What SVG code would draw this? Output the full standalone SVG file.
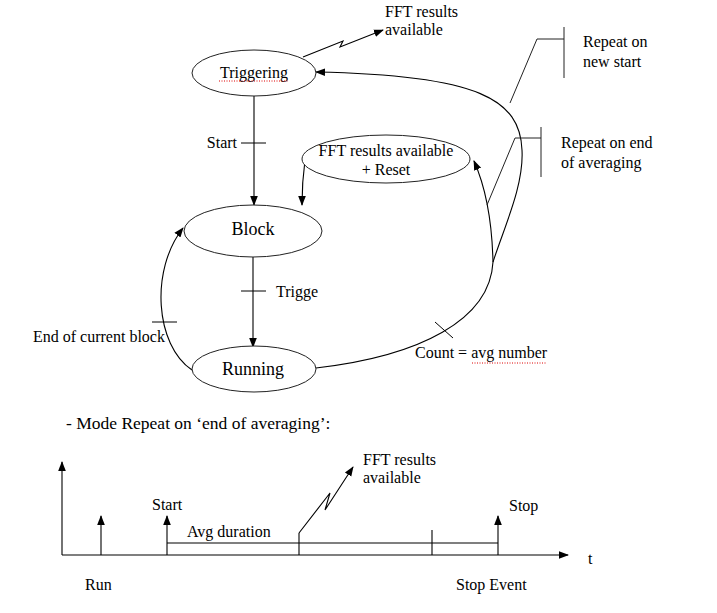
<svg xmlns="http://www.w3.org/2000/svg" width="717" height="613" viewBox="0 0 717 613">
<defs>
<marker id="ah" markerUnits="userSpaceOnUse" markerWidth="10" markerHeight="10" viewBox="0 0 10 10" refX="9" refY="5" orient="auto">
<path d="M0,1.2 L10,5 L0,8.8 Z" fill="#000"/>
</marker>
<style>
text{font-family:"Liberation Serif","Times New Roman",serif;font-size:16px;fill:#000}
.big{font-size:18px}
.mode{font-size:17.5px}
.node{fill:#fff;stroke:#222;stroke-width:1}
.ln{fill:none;stroke:#000;stroke-width:1.1}
.arr{fill:none;stroke:#000;stroke-width:1.1;marker-end:url(#ah)}
.tick{stroke:#000;stroke-width:1}
.call{fill:none;stroke:#222;stroke-width:1}
.spell{stroke:#d00;stroke-width:1;stroke-dasharray:1,1.5}
</style>
</defs>
<rect width="717" height="613" fill="#fff"/>

<g id="connectors">
<line class="arr" x1="254" y1="96" x2="254" y2="205"/>
<line class="tick" x1="241" y1="143" x2="266" y2="143"/>
<line class="arr" x1="253" y1="257" x2="253" y2="347"/>
<line class="tick" x1="241" y1="291" x2="266" y2="291"/>
<path class="arr" d="M192,370 C155,345 150,270 183,228"/>
<line class="tick" x1="152" y1="322" x2="177" y2="322"/>
<path class="arr" d="M305,160 C303,175 302,190 302,205"/>
<path class="ln" d="M316,368 C420,356 490,320 493,262"/>
<path class="arr" d="M493,262 C505,225 524,185 522,150 C520,100 480,75 316,72"/>
<path class="arr" d="M493,262 C492,220 486,188 474,161"/>
<line class="tick" x1="435" y1="322" x2="453" y2="338"/>
<path class="arr" d="M303,57 L343,41 L340,47 L383,30"/>
</g>

<g id="callout-new-start">
<polyline class="call" points="510,103 537,39 564,39"/>
<line class="call" x1="564" y1="27" x2="564" y2="78"/>
<text x="583" y="47">Repeat on</text>
<text x="583" y="67">new start</text>
</g>
<g id="callout-end-avg">
<polyline class="call" points="487,205 515,138 541,138"/>
<line class="call" x1="541" y1="127" x2="541" y2="177"/>
<text x="561" y="148">Repeat on end</text>
<text x="561" y="168">of averaging</text>
</g>

<g id="triggering">
<ellipse class="node" cx="254" cy="73" rx="62" ry="23"/>
<text x="254" y="78" text-anchor="middle">Triggering</text>
<line class="spell" x1="219" y1="81" x2="289" y2="81"/>
</g>
<g id="fft-reset">
<ellipse class="node" cx="386" cy="159" rx="84" ry="24"/>
<text x="386" y="156" text-anchor="middle">FFT results available</text>
<text x="386" y="175" text-anchor="middle">+ Reset</text>
</g>
<g id="block">
<ellipse class="node" cx="253" cy="231" rx="69" ry="26"/>
<text class="big" x="253" y="235" text-anchor="middle">Block</text>
</g>
<g id="running">
<ellipse class="node" cx="254" cy="369" rx="62" ry="23"/>
<text class="big" x="253" y="375" text-anchor="middle">Running</text>
</g>

<g id="labels">
<text x="385" y="17">FFT results</text>
<text x="385" y="35">available</text>
<text x="237" y="148" text-anchor="end">Start</text>
<text x="276" y="297">Trigge</text>
<text x="33" y="342">End of current block</text>
<text x="415" y="358">Count = avg number</text>
<line class="spell" x1="472" y1="363" x2="547" y2="363"/>
</g>

<g id="timeline">
<text class="mode" x="66" y="429">- Mode Repeat on ‘end of averaging’:</text>
<line class="arr" x1="62" y1="555" x2="568" y2="555"/>
<line class="arr" x1="62" y1="555" x2="62" y2="462"/>
<line class="arr" x1="101" y1="555" x2="101" y2="516"/>
<line class="arr" x1="167" y1="555" x2="167" y2="516"/>
<line class="arr" x1="498" y1="555" x2="498" y2="516"/>
<line class="ln" x1="167" y1="543" x2="498" y2="543"/>
<line class="ln" x1="299" y1="555" x2="299" y2="533"/>
<line class="ln" x1="432" y1="555" x2="432" y2="530"/>
<path class="arr" d="M299,533 L330,493 L325,510 L353,467"/>
<text x="152" y="510">Start</text>
<text x="187" y="537">Avg duration</text>
<text x="363" y="465">FFT results</text>
<text x="363" y="483">available</text>
<text x="509" y="511">Stop</text>
<text x="588" y="564">t</text>
<text x="85" y="590">Run</text>
<text x="456" y="590">Stop Event</text>
</g>
</svg>
